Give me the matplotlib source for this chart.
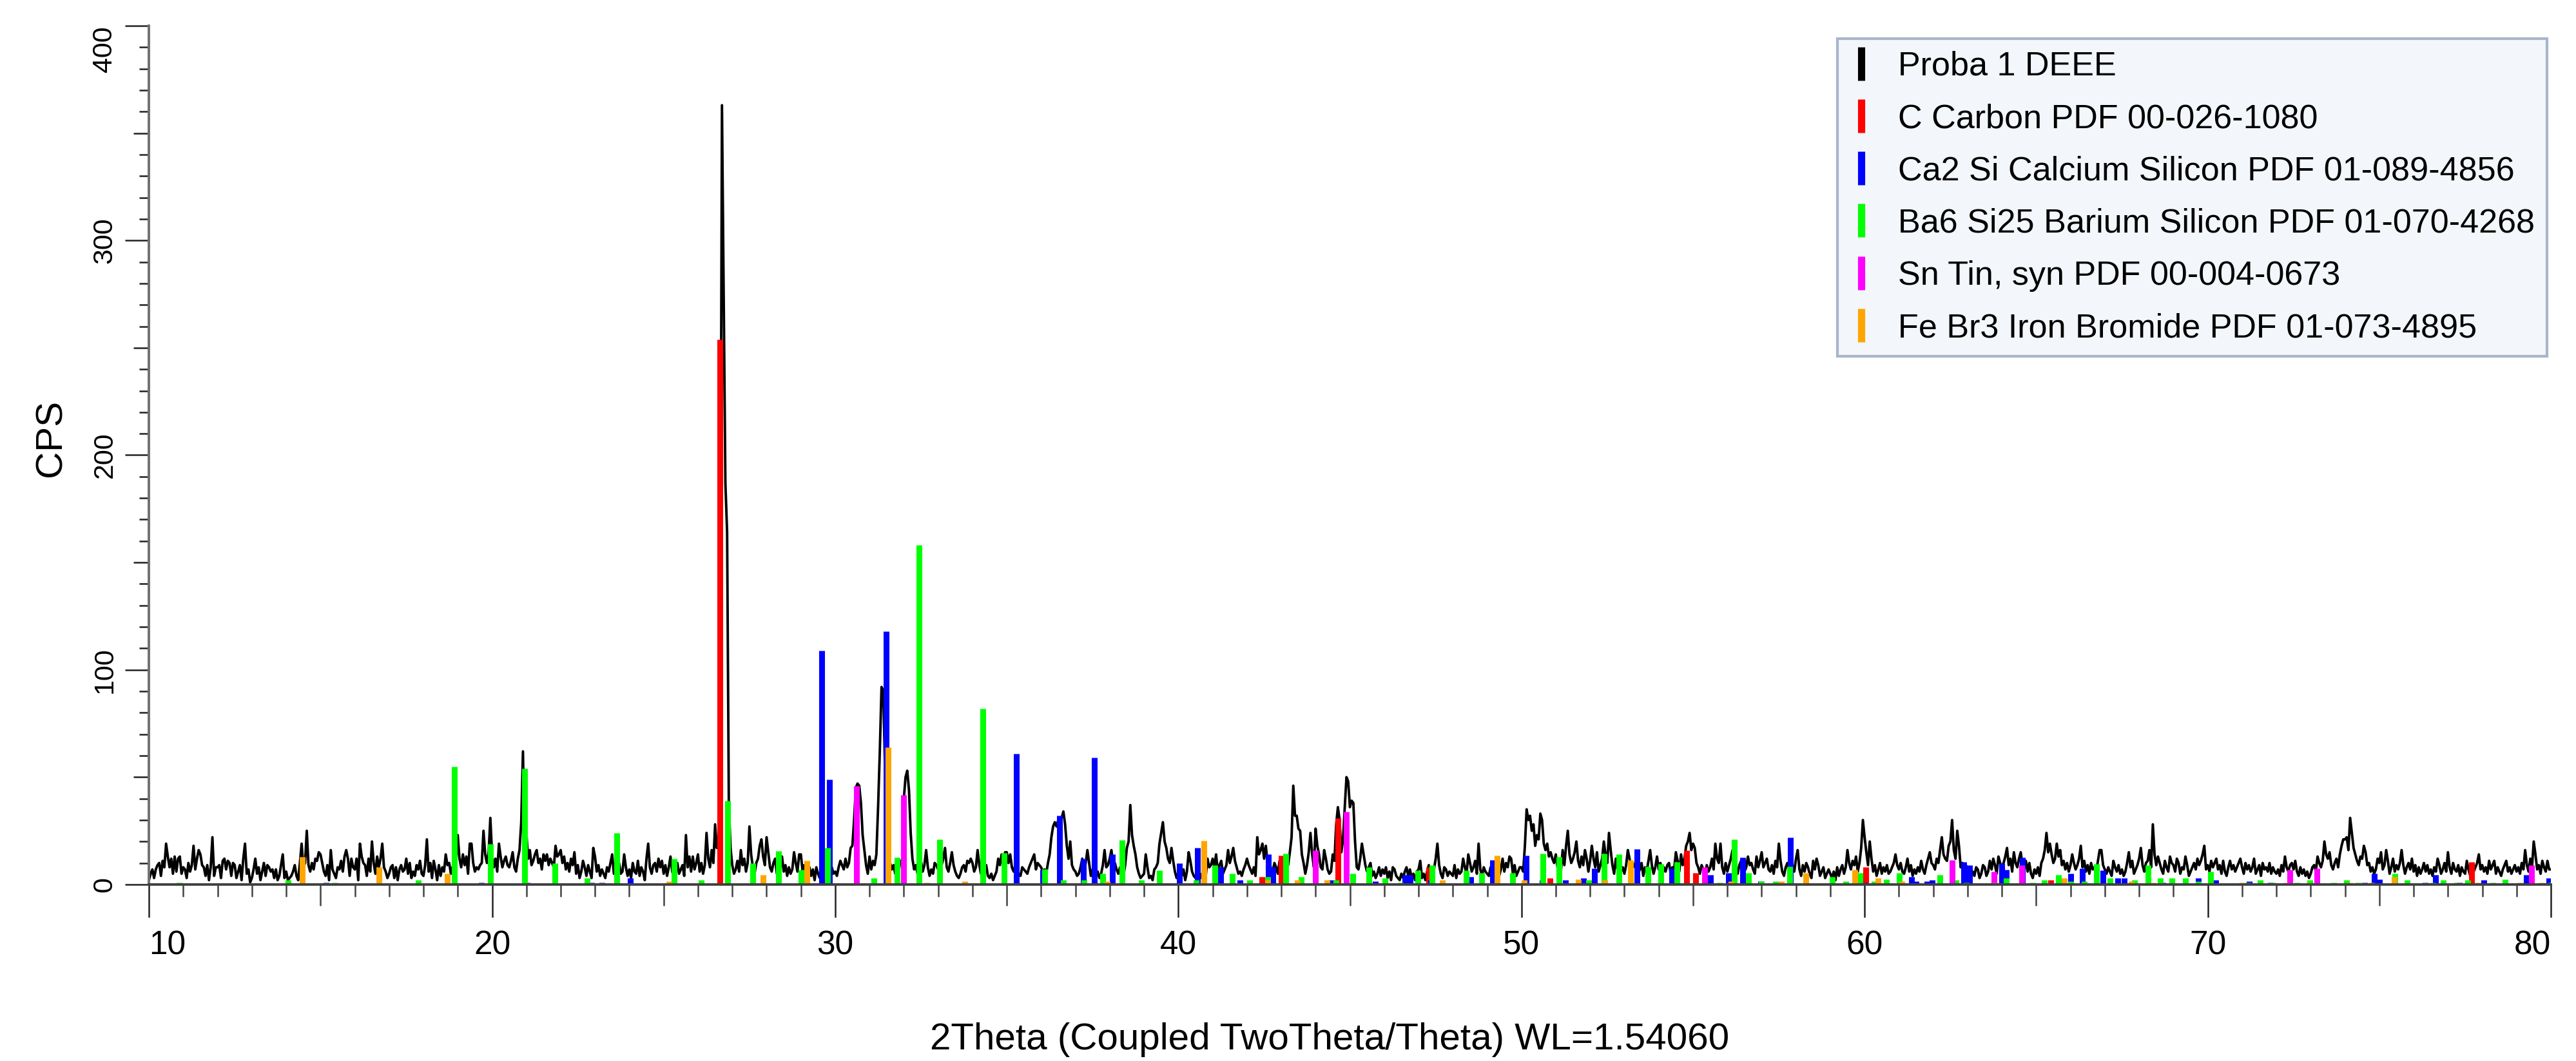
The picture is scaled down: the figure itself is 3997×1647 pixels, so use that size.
import numpy as np
import matplotlib.pyplot as plt
from matplotlib.lines import Line2D
from matplotlib.ticker import MultipleLocator

plt.rcParams['font.family'] = ['Liberation Sans', 'DejaVu Sans']

# measured scan (CPS), 0.05 deg steps, one row per degree starting at 10 deg
scan_rows = [
    [2, 5, 7, 3, 7, 9, 10, 4, 11, 8, 19, 13, 8, 12, 5, 13, 6, 12, 13, 5],          # 10
    [8, 7, 3, 10, 6, 9, 18, 7, 12, 16, 14, 9, 8, 4, 9, 2, 8, 22, 4, 8],           # 11
    [8, 9, 3, 11, 12, 7, 11, 10, 4, 10, 9, 3, 6, 9, 2, 12, 19, 5, 7, 1],          # 12
    [3, 7, 12, 5, 8, 2, 6, 10, 4, 9, 8, 6, 7, 3, 7, 2, 4, 9, 14, 3],              # 13
    [6, 2, 3, 4, 6, 9, 4, 2, 10, 19, 8, 10, 25, 9, 6, 10, 7, 12, 11, 15],         # 14
    [14, 10, 6, 4, 9, 2, 16, 7, 5, 3, 8, 7, 11, 6, 13, 16, 12, 4, 12, 8],         # 15
    [7, 12, 2, 19, 13, 10, 9, 4, 12, 6, 20, 10, 5, 13, 8, 12, 19, 8, 6, 3],       # 16
    [5, 8, 9, 3, 8, 2, 7, 9, 6, 7, 12, 5, 10, 3, 6, 4, 9, 7, 11, 5],              # 17
    [4, 9, 21, 6, 10, 3, 11, 7, 2, 9, 4, 8, 6, 14, 9, 10, 5, 8, 12, 10],          # 18
    [23, 12, 8, 14, 9, 13, 5, 19, 19, 10, 6, 8, 7, 9, 10, 25, 14, 10, 15, 31],    # 19
    [14, 8, 12, 6, 19, 13, 8, 11, 13, 9, 8, 11, 15, 8, 6, 12, 16, 29, 62, 20],    # 20
    [24, 12, 16, 9, 11, 14, 16, 10, 12, 7, 14, 11, 14, 9, 12, 10, 8, 18, 13, 14], # 21
    [16, 10, 13, 7, 10, 6, 12, 9, 15, 5, 9, 3, 6, 11, 8, 4, 9, 6, 3, 17],        # 22
    [13, 6, 9, 4, 7, 5, 3, 8, 6, 10, 14, 5, 7, 9, 10, 5, 6, 14, 8, 4],           # 23
    [7, 3, 10, 6, 5, 11, 4, 8, 6, 2, 12, 19, 8, 5, 9, 10, 6, 12, 8, 11],         # 24
    [5, 9, 4, 8, 13, 6, 3, 8, 10, 5, 7, 9, 4, 23, 8, 13, 6, 13, 7, 10],          # 25
    [14, 6, 10, 5, 9, 24, 12, 8, 16, 10, 28, 17, 22, 120, 363, 275, 187, 164, 38, 17],  # 26
    [9, 5, 7, 11, 6, 16, 9, 12, 6, 10, 27, 14, 8, 5, 10, 12, 18, 21, 13, 9],     # 27
    [22, 15, 8, 6, 10, 12, 5, 9, 7, 13, 6, 9, 4, 8, 5, 7, 15, 10, 6, 14],        # 28
    [14, 6, 9, 3, 6, 8, 4, 7, 2, 8, 5, 3, 6, 2, 5, 7, 4, 9, 8, 5],               # 29
    [6, 4, 8, 11, 9, 7, 12, 8, 10, 17, 18, 30, 45, 47, 46, 38, 23, 16, 9, 5],    # 30
    [13, 7, 11, 9, 14, 36, 62, 92, 90, 55, 20, 19, 10, 7, 9, 5, 8, 6, 11, 10],   # 31
    [40, 50, 53, 44, 24, 12, 7, 9, 5, 8, 11, 6, 9, 16, 8, 4, 7, 5, 10, 9],       # 32
    [7, 5, 9, 12, 17, 8, 6, 10, 15, 9, 6, 4, 3, 5, 8, 9, 6, 11, 10, 12],         # 33
    [10, 6, 8, 16, 9, 5, 3, 7, 9, 4, 3, 5, 2, 4, 6, 12, 9, 14, 8, 15],           # 34
    [15, 10, 14, 8, 6, 9, 3, 5, 4, 8, 7, 6, 5, 8, 10, 12, 14, 7, 10, 9],         # 35
    [8, 6, 7, 5, 10, 14, 22, 27, 29, 27, 30, 26, 31, 34, 28, 18, 12, 20, 9, 7],  # 36
    [6, 4, 5, 8, 12, 6, 10, 16, 10, 4, 7, 3, 5, 6, 3, 5, 9, 16, 8, 9],           # 37
    [12, 16, 9, 10, 7, 5, 8, 6, 4, 9, 17, 20, 37, 23, 18, 14, 8, 5, 3, 4],       # 38
    [5, 14, 8, 3, 4, 2, 7, 8, 10, 19, 24, 29, 20, 17, 12, 10, 17, 11, 6, 3],     # 39
    [3, 5, 4, 7, 2, 6, 15, 11, 6, 4, 3, 5, 7, 3, 5, 2, 4, 12, 8, 9],             # 40
    [12, 8, 14, 6, 9, 11, 5, 7, 9, 16, 10, 13, 17, 11, 8, 5, 6, 4, 7, 9],        # 41
    [12, 9, 7, 5, 8, 4, 22, 14, 16, 19, 12, 18, 10, 12, 7, 6, 10, 8, 5, 11],     # 42
    [11, 10, 8, 13, 9, 15, 22, 46, 32, 32, 26, 25, 14, 10, 5, 9, 15, 24, 14, 8], # 43
    [26, 18, 14, 8, 7, 16, 12, 7, 5, 6, 14, 11, 28, 36, 30, 15, 21, 36, 50, 48], # 44
    [36, 39, 38, 20, 8, 7, 12, 19, 14, 9, 6, 8, 10, 4, 6, 3, 5, 8, 4, 7],        # 45
    [5, 8, 3, 6, 2, 8, 7, 4, 3, 2, 5, 3, 6, 8, 4, 7, 3, 5, 2, 6],                # 46
    [7, 11, 3, 5, 2, 6, 9, 4, 8, 7, 12, 19, 9, 5, 3, 8, 7, 4, 6, 5],             # 47
    [4, 9, 3, 7, 5, 6, 12, 8, 5, 14, 10, 6, 8, 11, 5, 19, 7, 4, 8, 6],           # 48
    [5, 4, 8, 3, 6, 9, 5, 4, 7, 12, 6, 10, 8, 13, 12, 5, 9, 4, 6, 8],            # 49
    [8, 6, 18, 35, 30, 32, 25, 28, 18, 23, 21, 33, 30, 19, 16, 19, 13, 15, 12, 10],  # 50
    [14, 8, 12, 6, 16, 9, 18, 25, 14, 10, 12, 15, 20, 11, 8, 13, 9, 16, 12, 6],  # 51
    [11, 18, 12, 8, 15, 6, 9, 12, 20, 14, 10, 24, 16, 9, 5, 12, 7, 10, 6, 8],    # 52
    [5, 9, 16, 12, 6, 8, 9, 12, 5, 7, 10, 4, 8, 6, 11, 16, 9, 5, 8, 13],         # 53
    [7, 10, 4, 8, 6, 9, 10, 5, 8, 7, 15, 11, 6, 14, 9, 12, 18, 20, 24, 16],      # 54
    [19, 17, 10, 8, 5, 9, 7, 4, 9, 6, 8, 12, 7, 19, 12, 10, 19, 8, 5, 10],       # 55
    [6, 9, 12, 16, 10, 7, 5, 9, 11, 7, 6, 8, 13, 9, 10, 7, 5, 13, 8, 11],        # 56
    [15, 8, 10, 12, 7, 6, 9, 5, 11, 8, 19, 11, 6, 4, 8, 10, 5, 7, 9, 6],         # 57
    [12, 16, 7, 4, 9, 6, 10, 8, 5, 3, 11, 7, 12, 9, 4, 6, 8, 3, 5, 7],           # 58
    [5, 3, 6, 2, 8, 4, 7, 9, 5, 8, 16, 10, 7, 11, 9, 13, 6, 10, 17, 30],         # 59
    [22, 15, 9, 20, 12, 6, 9, 4, 7, 10, 5, 8, 6, 9, 5, 6, 8, 10, 14, 9],         # 60
    [7, 10, 6, 5, 8, 12, 6, 9, 4, 7, 5, 8, 6, 11, 7, 5, 9, 12, 15, 10],          # 61
    [9, 7, 12, 10, 16, 22, 14, 12, 11, 18, 20, 30, 16, 12, 25, 18, 8, 10, 6, 9], # 62
    [7, 5, 3, 6, 4, 8, 7, 3, 5, 9, 8, 4, 6, 11, 7, 12, 9, 5, 13, 10],            # 63
    [8, 10, 13, 17, 9, 12, 6, 15, 10, 8, 12, 15, 9, 7, 11, 6, 10, 5, 3, 7],      # 64
    [5, 8, 4, 10, 12, 16, 24, 15, 19, 14, 10, 12, 19, 13, 16, 9, 11, 7, 10, 6],  # 65
    [9, 14, 10, 7, 9, 12, 18, 8, 11, 6, 9, 5, 10, 7, 8, 6, 11, 16, 16, 9],       # 66
    [7, 5, 8, 6, 4, 11, 8, 6, 9, 5, 7, 4, 6, 10, 15, 8, 11, 5, 7, 9],            # 67
    [12, 17, 9, 6, 10, 11, 16, 8, 28, 14, 9, 13, 10, 7, 5, 11, 8, 6, 13, 10],    # 68
    [9, 6, 12, 10, 5, 8, 7, 13, 9, 4, 6, 8, 10, 7, 12, 9, 11, 14, 18, 7],        # 69
    [9, 6, 11, 8, 10, 12, 7, 9, 5, 11, 6, 4, 8, 11, 7, 9, 6, 8, 10, 12],         # 70
    [8, 5, 10, 7, 9, 6, 8, 12, 5, 7, 9, 4, 10, 7, 8, 6, 10, 5, 8, 6],            # 71
    [5, 7, 4, 9, 6, 13, 8, 6, 9, 10, 7, 11, 6, 4, 8, 5, 7, 4, 6, 3],             # 72
    [5, 8, 9, 6, 13, 10, 8, 11, 20, 14, 12, 15, 9, 7, 10, 12, 8, 14, 18, 21],    # 73
    [21, 22, 16, 31, 24, 17, 14, 11, 9, 13, 12, 18, 15, 9, 10, 6, 8, 5, 7, 12],  # 74
    [10, 15, 7, 9, 16, 11, 5, 8, 12, 6, 9, 7, 10, 16, 9, 5, 8, 10, 7, 12],       # 75
    [6, 9, 4, 8, 5, 7, 10, 6, 9, 5, 7, 4, 8, 6, 12, 9, 5, 7, 10, 6],             # 76
    [15, 8, 5, 10, 7, 6, 9, 4, 8, 6, 5, 11, 7, 4, 9, 6, 8, 10, 14, 7],           # 77
    [9, 6, 8, 5, 11, 7, 9, 11, 5, 8, 6, 4, 7, 9, 11, 6, 8, 5, 7, 9],             # 78
    [6, 8, 5, 10, 7, 16, 9, 6, 12, 8, 20, 14, 7, 9, 5, 11, 8, 6, 11, 7],         # 79
    [7],                                                                         # 80
]
scan_start = 10

# reference patterns: peak position (2theta) and height (CPS)
c_pos = [26.64, 42.44, 43.0, 44.66, 47.3, 50.83, 54.82, 55.08, 60.04, 65.42, 77.69]
c_int = [254, 3.5, 13.5, 31, 8, 3, 16, 5.5, 8, 2, 10.5]

ca2si_pos = [15.17, 19.69, 21.03, 22.9, 23.2, 24.03, 29.61, 29.83, 31.48, 35.28, 36.04,
             36.54, 37.23, 37.56, 38.07, 40.04, 40.56, 41.24, 41.79, 42.63, 42.75, 44.47,
             45.75, 46.6, 46.75, 47.35, 48.53, 49.15, 50.14, 50.6, 51.29, 51.8, 52.13,
             53.36, 54.39, 55.5, 56.04, 56.44, 56.98, 57.84, 60.0, 61.36, 61.5, 61.82,
             61.96, 62.89, 63.05, 64.0, 64.12, 64.6, 66.0, 66.34, 66.94, 67.38, 67.57,
             68.7, 69.73, 70.24, 71.21, 71.83, 74.58, 74.85, 75.01, 76.33, 76.64, 77.34,
             78.05, 79.29, 79.95]
ca2si_int = [1, 1, 1, 1, 1, 3, 109, 49, 118, 61, 7,
             32, 12, 59, 14, 10, 17, 8, 2, 14, 8, 2,
             1.5, 4.5, 4.5, 2, 3.5, 11.5, 13.5, 2, 2, 3, 7.5,
             16.5, 7.5, 4.5, 5.5, 12.5, 1.5, 22, 1, 3.5, 1.5, 1.5,
             2, 10.5, 9, 10, 7, 12.5, 5, 7.5, 6.5, 3, 3,
             1, 3, 2, 1.5, 1, 1, 5, 2.5, 1, 4.5, 1,
             2, 4.5, 3]

ba6si25_pos = [10.88, 14.06, 15.4, 17.85, 18.91, 19.96, 20.94, 21.84, 22.77, 23.63, 25.31,
               26.1, 26.87, 27.6, 28.35, 29.01, 29.78, 31.12, 31.81, 32.44, 33.05, 34.31,
               34.93, 36.1, 36.65, 37.25, 37.79, 38.36, 38.92, 39.45, 40.52, 41.06, 41.57,
               42.08, 42.6, 43.13, 43.59, 44.6, 45.08, 45.56, 46.02, 46.48, 46.98, 47.4,
               48.38, 48.84, 49.74, 50.62, 51.09, 51.96, 52.4, 52.84, 53.68, 54.07, 54.54,
               55.77, 56.2, 56.62, 57.0, 57.41, 57.82, 59.06, 59.45, 59.87, 60.27, 60.63,
               61.02, 62.19, 62.66, 62.97, 64.12, 64.9, 65.23, 65.65, 66.0, 66.41, 66.76,
               67.15, 67.87, 68.26, 68.61, 68.96, 69.35, 69.72, 70.08, 71.17, 71.52, 71.9,
               72.6, 72.98, 73.67, 74.04, 74.39, 75.46, 75.82, 76.56, 76.87, 77.26, 77.57,
               78.31, 78.66, 80.0]
ba6si25_int = [1, 2, 1, 2, 55, 19, 54, 10, 3, 24, 12,
               2, 39, 10, 15.5, 7, 17, 3, 12.5, 158, 21, 82,
               14.6, 7.3, 2, 2, 5, 20.6, 2, 6.5, 2, 9, 5,
               2, 3.5, 14.5, 3.5, 2, 5, 8, 3, 1, 6.5, 9,
               6.5, 5.5, 5.5, 14.5, 13, 2, 14.5, 14, 8.5, 9.5, 10.5,
               1, 21, 5.5, 1.5, 1.5, 8.5, 3.5, 1.5, 5.5, 1.5, 2.5,
               5.5, 4.5, 2, 1, 3, 1, 2, 4.5, 1.5, 1.5, 9.5,
               3, 2, 9, 3, 3, 3, 1.5, 6, 1, 2, 1,
               1, 2, 1, 2, 1, 5, 2, 1, 2, 1, 2,
               1, 2.5, 1]

sn_pos = [30.62, 32.0, 44.0, 44.89, 55.33, 62.55, 63.77, 64.58, 72.39, 73.19, 79.43]
sn_int = [46, 41.6, 16, 34, 8, 11.5, 6, 9, 7, 7.5, 9]

febr3_pos = [14.46, 16.7, 18.7, 25.16, 27.89, 29.17, 31.54, 32.67, 33.78, 37.92, 40.75,
             42.6, 43.46, 44.33, 47.7, 49.3, 50.08, 51.65, 52.42, 53.18, 56.1, 57.57,
             58.28, 59.71, 60.4, 61.08, 63.8, 65.82, 67.78, 68.4, 71.01, 72.28, 72.94,
             74.14, 74.78, 75.44, 77.88, 79.12, 79.74]
febr3_int = [13, 8, 5, 1.5, 4.5, 11, 64, 1, 1.5, 1.5, 20.5,
             2, 2, 2, 2, 13.5, 2, 2.5, 2, 11.5, 1.5, 1.5,
             5.5, 7, 3, 1.5, 1, 3, 1.5, 1, 1, 1, 1,
             1, 1, 3.5, 1, 1, 1]

labels = ['Proba 1 DEEE', 'C Carbon PDF 00-026-1080', 'Ca2 Si Calcium Silicon PDF 01-089-4856',
          'Ba6 Si25 Barium Silicon PDF 01-070-4268', 'Sn Tin, syn PDF 00-004-0673',
          'Fe Br3 Iron Bromide PDF 01-073-4895']
colors = ['#000000', '#ff0000', '#0000ff', '#00ff00', '#ff00ff', '#ffa500']

# scan positions for each row (0.05 deg step)
two_theta = np.concatenate([scan_start + i + 0.05 * np.arange(len(r)) for i, r in enumerate(scan_rows)])
cps = np.concatenate([np.array(r, dtype=float) for r in scan_rows])

fig = plt.figure(figsize=(39.98, 16.47), dpi=100)
ax = fig.add_axes([0.0578, 0.1664, 0.9322, 0.8093])

ax.plot(two_theta, cps, color='black', lw=2.8, zorder=2)
sticks = [(c_pos, c_int), (ca2si_pos, ca2si_int), (ba6si25_pos, ba6si25_int),
          (sn_pos, sn_int), (febr3_pos, febr3_int)]
for (pos, inten), col in zip(sticks, colors[1:]):
    ax.vlines(pos, 0, inten, colors=col, lw=6.5, zorder=3)

ax.set_xlim(10, 80)
ax.set_ylim(0, 400)
for s in ['top', 'right']:
    ax.spines[s].set_visible(False)
ax.spines['left'].set_color('#707070')
ax.spines['left'].set_linewidth(2.8)
ax.spines['bottom'].set_color('#404040')
ax.spines['bottom'].set_linewidth(2.8)
ax.spines['bottom'].set_zorder(4)

ax.xaxis.set_major_locator(MultipleLocator(10))
ax.xaxis.set_minor_locator(MultipleLocator(1))
ax.yaxis.set_major_locator(MultipleLocator(100))
ax.yaxis.set_minor_locator(MultipleLocator(10))
ax.tick_params(axis='x', which='major', length=37, width=1.8, pad=14, labelsize=37, color='#222222')
ax.tick_params(axis='x', which='minor', length=14, width=1.8, color='#444444')
ax.tick_params(axis='y', which='major', length=27, width=1.8, pad=8, labelsize=31, color='#222222')
ax.tick_params(axis='y', which='minor', length=11, width=1.8, color='#222222')

# medium ticks at the halves
xl = ax.xaxis.get_minorticklocs()
for t, loc in zip(ax.xaxis.get_minor_ticks(len(xl)), xl):
    if abs(loc % 10 - 5) < 1e-6:
        t.tick1line.set_markersize(24)
yl = ax.yaxis.get_minorticklocs()
for t, loc in zip(ax.yaxis.get_minor_ticks(len(yl)), yl):
    if abs(loc % 100 - 50) < 1e-6:
        t.tick1line.set_markersize(17)

ax.set_xticks(np.arange(10, 81, 10))
ax.set_yticks(np.arange(0, 401, 100))
xlabs = ax.get_xticklabels()
xlabs[0].set_ha('left')
xlabs[-1].set_ha('right')
for lbl in ax.get_yticklabels():
    lbl.set_rotation(90)
    lbl.set_va('center')
ax.get_yticklabels()[-1].set_va('top')

fig.text(0.0198, 0.587, 'CPS', rotation=90, ha='center', va='center', fontsize=42)
fig.text(0.516, 0.02, '2Theta (Coupled TwoTheta/Theta) WL=1.54060', ha='center', va='center', fontsize=42)

handles = [Line2D([], [], color=c, marker='|', linestyle='None', markersize=37, markeredgewidth=8)
           for c in colors]
leg = ax.legend(handles, labels, loc='upper left', bbox_to_anchor=(2851 / 3998, 1 - 60 / 1647),
                bbox_transform=fig.transFigure, borderaxespad=0, fontsize=37.5, frameon=True,
                fancybox=False, framealpha=1, borderpad=0.36, labelspacing=0.62,
                handlelength=0.7, handletextpad=0.75)
leg.get_frame().set_facecolor('#f3f6fa')
leg.get_frame().set_edgecolor('#a7b6cc')
leg.get_frame().set_linewidth(3)

plt.savefig('out.png', dpi=100)
